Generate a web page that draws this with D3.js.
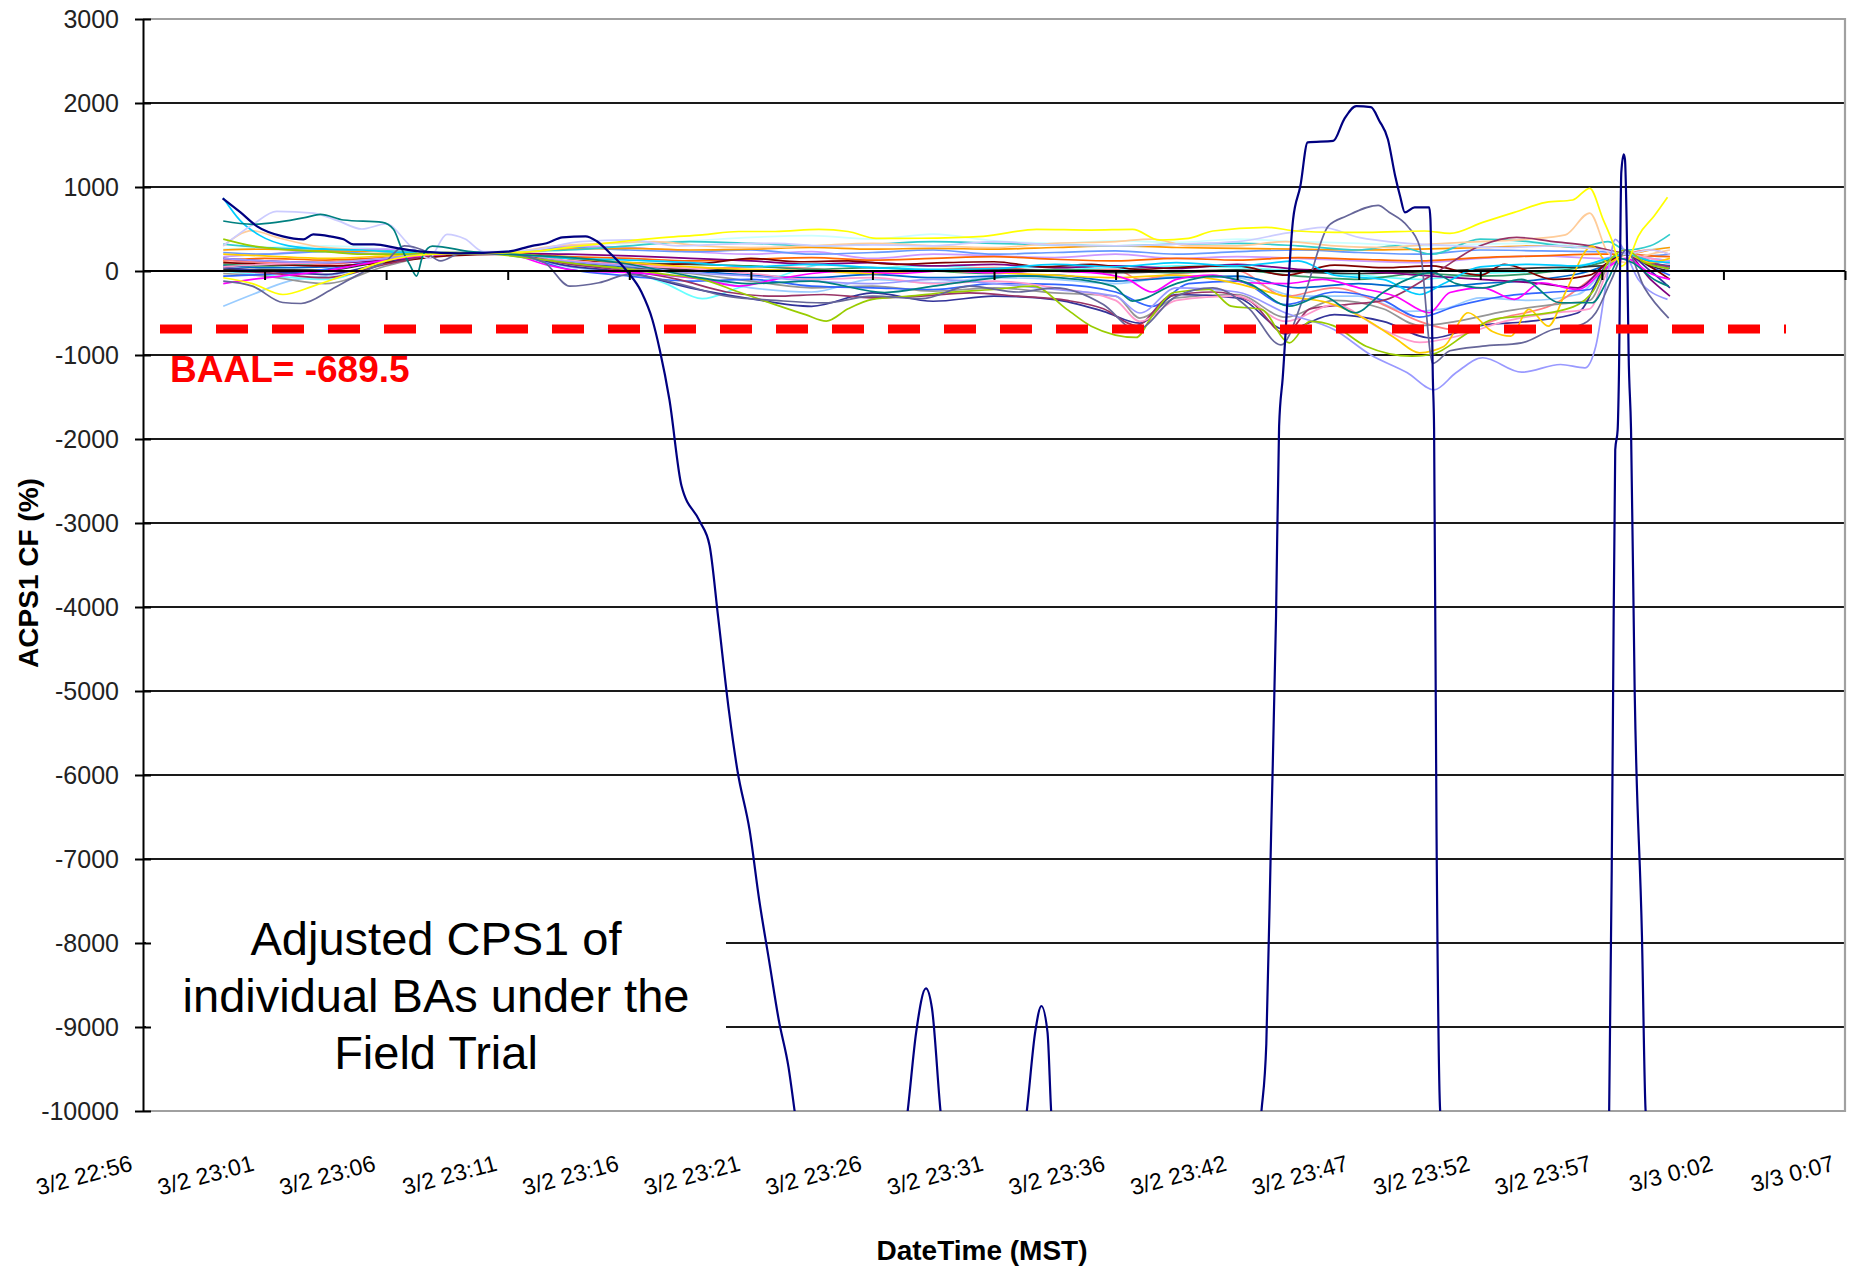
<!DOCTYPE html>
<html><head><meta charset="utf-8">
<script src="https://cdn.jsdelivr.net/npm/d3@7/dist/d3.min.js"></script>
<style>
body{margin:0;background:#fff;}
svg{display:block;font-family:"Liberation Sans",Arial,sans-serif;}
</style>
</head><body>
<svg id="chart" width="1860" height="1269"></svg>
<script>
// ---------- DATA ----------
const tickLabels = ["3/2 22:56","3/2 23:01","3/2 23:06","3/2 23:11","3/2 23:16","3/2 23:21","3/2 23:26",
  "3/2 23:31","3/2 23:36","3/2 23:42","3/2 23:47","3/2 23:52","3/2 23:57","3/3 0:02","3/3 0:07"];
const yTickValues = [3000,2000,1000,0,-1000,-2000,-3000,-4000,-5000,-6000,-7000,-8000,-9000,-10000];
const baalValue = -689.5;
const baalLabel = "BAAL= -689.5";
const yTitle = "ACPS1 CF (%)";
const xTitle = "DateTime (MST)";
const noteLines = ["Adjusted CPS1 of","individual BAs under the","Field Trial"];

// x = position along the category axis in tick intervals (0 = 3/2 22:56)
const navyX = [0.655,0.8,0.935,1.15,1.32,1.4,1.54,1.65,1.73,1.9,2.1,2.3,2.6,3.0,3.2,3.32,3.45,3.64,3.73,3.85,3.98,4.1,4.19,4.25,4.33,4.43,4.58,4.66,4.73,4.82,4.89,4.99,5.07,5.15,5.23,5.31,5.36,5.45,6.2,6.29,6.36,6.44,6.49,6.56,6.65,7.18,7.27,7.34,7.39,7.44,7.47,7.55,9.1,9.2,9.24,9.28,9.32,9.345,9.375,9.46,9.52,9.58,9.79,9.88,9.98,10.1,10.17,10.24,10.3,10.34,10.38,10.46,10.58,10.59,10.61,10.62,10.64,10.67,10.75,11.98,12.06,12.09,12.11,12.13,12.14,12.16,12.18,12.19,12.21,12.22,12.24,12.27,12.33,12.36,12.45];
const navyY = [865,700,535,412,377,436,412,377,317,317,270,230,210,230,300,330,400,412,357,200,0,-250,-580,-934,-1530,-2560,-2980,-3265,-4110,-5240,-5950,-6660,-7500,-8210,-8920,-9480,-10000,-11000,-11000,-10000,-9060,-8540,-8780,-10000,-11000,-11000,-10000,-9050,-8750,-9060,-10000,-11000,-11000,-10000,-9200,-6660,-4110,-1850,-1270,612,1012,1531,1548,1806,1962,1950,1787,1569,1131,893,698,758,758,615,-1292,-1888,-6660,-10000,-11000,-11000,-10000,-5530,-2130,-1888,-1292,1175,1390,1330,56,-970,-1888,-5000,-7930,-10000,-11000];

const yellowS = [[0.66,-80],[0.9,-150],[1.15,-280],[1.4,-180],[1.7,-30],[2.0,120],[2.4,200],[2.8,210],[3.2,230],[3.6,300],[4.0,360],[4.3,400],[4.6,430],[4.9,470],[5.2,470],[5.56,496],[5.8,470],[6.03,389],[6.4,390],[6.91,412],[7.35,496],[7.8,487],[8.14,496],[8.36,369],[8.6,389],[8.8,476],[9.24,520],[9.49,476],[9.8,460],[10.07,460],[10.54,476],[10.75,448],[11.02,579],[11.28,698],[11.54,817],[11.76,845],[11.9,984],[12.01,615],[12.08,377],[12.16,58],[12.22,138],[12.3,416],[12.43,654],[12.54,877]];
const tealS = [[0.66,595],[0.9,556],[1.34,638],[1.46,675],[1.65,607],[1.97,579],[2.06,496],[2.13,257],[2.2,58],[2.25,-60],[2.3,178],[2.38,297],[2.7,230],[3.0,200],[3.6,150],[4.0,80],[4.5,-60],[5.0,-150],[5.5,-120],[6.1,-256],[6.5,-180],[6.8,-120],[7.2,-60],[7.5,-76],[7.98,-180],[8.14,-358],[8.5,-150],[8.8,-60],[9.1,-150],[9.43,-418],[9.7,-300],[9.97,-497],[10.2,-256],[10.4,-100],[10.6,-17],[10.8,-150],[11.02,-200],[11.34,-100],[11.66,-378],[11.92,-378],[12.05,-100],[12.15,150],[12.25,100],[12.43,-100],[12.55,-180]];
const slateS = [[0.66,-120],[0.9,-180],[1.15,-375],[1.3,-387],[1.55,-220],[1.8,-20],[2.0,120],[2.15,300],[2.3,250],[2.45,120],[2.6,200],[3.0,200],[3.3,100],[3.51,-180],[3.75,-140],[4.0,-40],[4.4,-150],[4.8,-300],[5.2,-350],[5.6,-380],[6.0,-300],[6.4,-330],[6.8,-180],[7.2,-250],[7.5,-200],[7.9,-400],[8.17,-700],[8.5,-300],[8.8,-200],[9.1,-450],[9.36,-880],[9.55,-300],[9.75,535],[9.9,654],[10.16,782],[10.25,700],[10.4,535],[10.5,297],[10.61,-1100],[10.75,-950],[11.02,-895],[11.34,-855],[11.6,-696],[11.8,-656],[11.95,-497],[12.08,-100],[12.2,250],[12.35,-200],[12.55,-560]];
const periwinkleS = [[0.66,150],[1.0,120],[1.5,100],[2.0,150],[2.4,220],[2.8,220],[3.2,150],[3.6,100],[4.0,60],[4.5,-20],[5.0,-60],[5.5,-120],[6.0,-150],[6.5,-100],[7.0,-150],[7.5,-220],[8.0,-300],[8.2,-500],[8.5,-200],[9.0,-250],[9.4,-500],[9.8,-700],[10.1,-1000],[10.4,-1212],[10.62,-1415],[10.8,-1212],[11.02,-1033],[11.34,-1205],[11.66,-1113],[11.86,-1153],[11.95,-895],[12.05,-17],[12.11,377],[12.2,200],[12.3,-100],[12.54,-338]];
const oliveS = [[0.66,380],[0.9,300],[1.2,250],[1.5,230],[1.8,200],[2.1,200],[2.5,220],[2.8,210],[3.2,150],[3.6,80],[4.0,20],[4.3,-40],[4.6,-100],[4.9,-250],[5.2,-400],[5.45,-520],[5.62,-597],[5.8,-450],[6.0,-338],[6.3,-300],[6.6,-256],[7.0,-220],[7.32,-180],[7.6,-457],[7.8,-657],[8.17,-791],[8.3,-537],[8.48,-256],[8.77,-220],[8.95,-418],[9.2,-457],[9.43,-855],[9.6,-600],[9.79,-650],[10.06,-895],[10.44,-1014],[10.6,-994],[10.9,-735],[11.1,-577],[11.34,-537],[11.7,-457],[11.92,-256],[12.05,100],[12.2,250],[12.35,100],[12.55,30]];
const magentaS = [[0.66,-150],[0.9,-100],[1.2,-50],[1.5,0],[1.8,80],[2.1,150],[2.5,200],[3.0,200],[3.3,80],[3.6,0],[4.0,-20],[4.3,-50],[4.6,-100],[4.9,-180],[5.2,-100],[5.5,-30],[5.8,0],[6.2,-30],[6.6,0],[7.0,-20],[7.4,0],[7.8,-20],[8.1,-100],[8.3,-250],[8.5,-100],[8.8,-50],[9.1,-140],[9.4,-150],[9.7,-100],[10.0,-200],[10.3,-300],[10.58,-497],[10.75,-256],[11.02,-200],[11.28,-338],[11.5,-140],[11.8,-220],[12.05,50],[12.2,150],[12.4,-30],[12.56,-100]];
const goldS = [[0.66,200],[1.0,180],[1.5,150],[2.0,180],[2.5,220],[3.0,210],[3.5,150],[4.0,100],[4.5,50],[5.0,20],[5.5,0],[6.0,-30],[6.5,0],[7.0,-20],[7.5,-50],[8.0,-80],[8.5,-50],[9.0,-150],[9.4,-300],[9.75,-378],[10.06,-577],[10.3,-800],[10.5,-974],[10.7,-900],[10.9,-497],[11.1,-720],[11.25,-775],[11.4,-457],[11.56,-656],[11.7,-256],[11.92,297],[12.05,100],[12.2,200],[12.4,100],[12.56,150]];
const pinkS = [[0.66,50],[1.0,80],[1.5,100],[2.0,150],[2.5,200],[3.0,210],[3.5,120],[4.0,80],[4.5,30],[5.0,-30],[5.5,-100],[6.0,-80],[6.5,-150],[7.0,-120],[7.5,-200],[8.0,-350],[8.2,-600],[8.5,-350],[9.0,-300],[9.4,-600],[9.8,-400],[10.2,-700],[10.5,-850],[10.8,-780],[11.2,-600],[11.6,-500],[11.9,-450],[12.05,0],[12.2,200],[12.4,150],[12.56,80]];
const peachS = [[0.66,300],[0.9,480],[1.1,400],[1.4,300],[1.8,250],[2.1,220],[2.5,200],[3.0,220],[3.4,300],[3.8,330],[4.2,350],[4.6,300],[5.0,280],[5.5,300],[6.0,330],[6.5,300],[7.0,280],[7.5,330],[8.0,350],[8.3,380],[8.6,300],[9.0,300],[9.4,350],[9.8,300],[10.2,280],[10.6,320],[11.0,350],[11.4,380],[11.7,430],[11.9,690],[12.05,217],[12.2,100],[12.35,180],[12.56,250]];
const lavenderS = [[0.66,300],[0.9,550],[1.1,710],[1.4,690],[1.6,600],[1.8,500],[2.0,560],[2.2,300],[2.35,150],[2.5,436],[2.65,380],[2.8,230],[3.2,250],[3.6,350],[4.0,370],[4.4,300],[4.8,320],[5.2,330],[5.6,300],[6.0,310],[6.5,300],[7.0,350],[7.5,310],[8.0,300],[8.5,320],[9.0,350],[9.4,450],[9.7,520],[10.0,400],[10.4,330],[10.8,300],[11.2,280],[11.6,300],[12.0,250],[12.2,200],[12.4,250],[12.56,200]];
const skyS = [[0.66,870],[0.8,600],[0.96,424],[1.2,300],[1.5,260],[1.8,250],[2.1,220],[2.5,210],[3.0,200],[3.5,150],[4.0,130],[4.5,100],[5.0,50],[5.5,80],[6.0,40],[6.5,20],[7.0,30],[7.5,80],[8.0,50],[8.5,100],[9.0,60],[9.5,120],[9.8,-50],[10.2,-100],[10.5,-280],[10.7,-150],[11.0,50],[11.4,80],[11.8,60],[12.05,150],[12.2,200],[12.4,120],[12.56,100]];
const lightBlueS = [[0.66,-420],[0.9,-280],[1.2,-120],[1.5,-60],[1.8,20],[2.1,120],[2.5,200],[3.0,200],[3.5,50],[4.0,-20],[4.5,-80],[5.0,-200],[5.5,-250],[6.0,-100],[6.5,-140],[7.0,-80],[7.5,-100],[8.0,-150],[8.5,-60],[9.0,-80],[9.5,-300],[10.0,-300],[10.4,-480],[10.7,-450],[11.0,-320],[11.4,-350],[11.8,-280],[12.05,50],[12.2,200],[12.4,100],[12.56,50]];
const aquaS = [[0.66,0],[1.0,-50],[1.5,-100],[2.0,100],[2.5,200],[3.0,200],[3.5,100],[4.0,0],[4.3,-150],[4.6,-330],[4.9,-200],[5.2,-80],[5.6,80],[6.0,40],[6.5,60],[7.0,30],[7.5,50],[8.0,20],[8.5,60],[9.0,40],[9.5,0],[10.0,-50],[10.5,-100],[11.0,-30],[11.5,0],[12.0,120],[12.2,200],[12.4,150],[12.56,120]];
const iceS = [[0.66,260],[1.0,280],[1.5,300],[2.0,260],[2.5,220],[3.0,210],[3.5,300],[4.0,330],[4.5,360],[5.0,400],[5.5,420],[6.0,380],[6.5,440],[7.0,360],[7.5,330],[8.0,360],[8.5,340],[9.0,380],[9.5,350],[10.0,330],[10.5,300],[11.0,320],[11.5,330],[12.0,260],[12.2,200],[12.4,260],[12.56,280]];
const maroonS = [[0.66,100],[1.0,80],[1.5,60],[2.0,100],[2.5,180],[3.0,200],[3.5,150],[3.8,100],[4.2,80],[4.6,90],[5.0,150],[5.4,110],[5.8,120],[6.2,80],[6.6,100],[7.0,110],[7.4,50],[7.8,80],[8.2,20],[8.6,50],[9.0,60],[9.4,-50],[9.8,70],[10.2,40],[10.6,60],[11.0,-50],[11.2,80],[11.6,-100],[11.9,-50],[12.05,100],[12.2,200],[12.4,50],[12.56,-100]];
const plumS = [[0.66,0],[1.0,-20],[1.5,-80],[2.0,80],[2.5,200],[3.0,200],[3.5,80],[4.0,0],[4.4,-100],[4.8,-250],[5.2,-300],[5.6,-280],[6.0,-320],[6.4,-300],[6.8,-260],[7.2,-300],[7.6,-350],[7.9,-450],[8.17,-650],[8.45,-300],[8.8,-250],[9.1,-350],[9.4,-750],[9.6,-450],[9.9,-400],[10.2,-350],[10.6,-50],[11.0,300],[11.3,400],[11.6,350],[11.9,300],[12.05,250],[12.2,200],[12.4,100],[12.56,50]];
const purpleS = [[0.66,150],[1.0,120],[1.5,100],[2.0,130],[2.5,200],[3.0,210],[3.5,200],[4.0,180],[4.5,150],[5.0,120],[5.5,80],[6.0,100],[6.5,60],[7.0,80],[7.5,40],[8.0,60],[8.5,30],[9.0,80],[9.5,20],[10.0,0],[10.5,-50],[11.0,-100],[11.5,-150],[11.8,-200],[12.05,100],[12.2,200],[12.4,-100],[12.56,-300]];
const blueS = [[0.66,220],[1.0,200],[1.5,230],[2.0,200],[2.5,200],[3.0,220],[3.5,280],[4.0,250],[4.5,230],[5.0,250],[5.5,200],[6.0,220],[6.5,250],[7.0,200],[7.5,220],[8.0,240],[8.5,200],[9.0,230],[9.5,250],[10.0,220],[10.5,200],[11.0,250],[11.5,240],[12.0,230],[12.2,200],[12.4,180],[12.56,200]];
const orangeS = [[0.66,250],[1.0,260],[1.5,240],[2.0,230],[2.5,210],[3.0,220],[3.5,260],[4.0,270],[4.5,250],[5.0,260],[5.5,280],[6.0,260],[6.5,270],[7.0,260],[7.5,280],[8.0,300],[8.5,280],[9.0,270],[9.5,260],[10.0,250],[10.5,260],[11.0,280],[11.5,300],[12.0,260],[12.2,200],[12.4,250],[12.56,280]];
const turquoiseS = [[0.66,320],[1.0,280],[1.5,260],[2.0,240],[2.5,220],[3.0,230],[3.5,250],[4.0,300],[4.5,350],[5.0,330],[5.5,300],[6.0,320],[6.5,350],[7.0,330],[7.5,310],[8.0,300],[8.5,320],[9.0,330],[9.5,300],[10.0,250],[10.3,300],[10.6,200],[11.0,380],[11.4,350],[11.8,280],[12.05,350],[12.2,250],[12.4,300],[12.56,436]];
const lilacS = [[0.66,170],[1.0,200],[1.5,250],[2.0,260],[2.5,210],[3.0,200],[3.5,300],[4.0,280],[4.5,230],[5.0,200],[5.5,230],[6.0,150],[6.5,200],[7.0,180],[7.5,160],[8.0,200],[8.5,150],[9.0,170],[9.5,150],[10.0,120],[10.5,100],[11.0,150],[11.5,180],[12.0,150],[12.2,200],[12.4,150],[12.56,120]];
const salmonS = [[0.66,130],[1.0,100],[1.5,80],[2.0,150],[2.5,200],[3.0,200],[3.5,120],[4.0,60],[4.5,20],[5.0,50],[5.5,30],[6.0,-20],[6.5,10],[7.0,40],[7.5,0],[8.0,20],[8.2,-100],[8.5,-30],[9.0,0],[9.4,-300],[9.8,-200],[10.2,-400],[10.5,-600],[10.8,-700],[11.2,-550],[11.6,-400],[12.0,0],[12.2,200],[12.4,250],[12.56,200]];
const oceanS = [[0.66,60],[1.0,40],[1.5,50],[2.0,120],[2.5,200],[3.0,200],[3.5,100],[4.0,50],[4.5,0],[5.0,-50],[5.5,-80],[6.0,-40],[6.5,-80],[7.0,-60],[7.5,-50],[8.0,-120],[8.5,-80],[9.0,-60],[9.5,-200],[10.0,-150],[10.5,-200],[11.0,-150],[11.5,-100],[12.0,50],[12.2,200],[12.4,100],[12.56,60]];
const greenS = [[0.66,80],[1.0,60],[1.5,100],[2.0,150],[2.5,200],[3.0,210],[3.5,150],[4.0,100],[4.5,80],[5.0,60],[5.5,20],[6.0,40],[6.5,0],[7.0,-30],[7.5,20],[8.0,0],[8.5,-20],[9.0,10],[9.5,-60],[10.0,-100],[10.5,-30],[11.0,-60],[11.5,-20],[12.0,100],[12.2,200],[12.4,80],[12.56,30]];
const indigoS = [[0.66,40],[1.0,0],[1.5,-40],[2.0,100],[2.5,200],[3.0,200],[3.5,60],[4.0,-20],[4.5,-200],[5.0,-330],[5.5,-420],[6.0,-260],[6.5,-360],[7.0,-300],[7.5,-340],[7.9,-480],[8.2,-620],[8.5,-280],[9.0,-320],[9.4,-700],[9.8,-520],[10.2,-600],[10.6,-800],[11.0,-650],[11.4,-600],[11.8,-500],[12.05,100],[12.2,200],[12.4,0],[12.56,-200]];
const redOrangeS = [[0.66,120],[1.0,150],[1.5,130],[2.0,160],[2.5,200],[3.0,210],[3.5,170],[4.0,150],[4.5,120],[5.0,140],[5.5,160],[6.0,130],[6.5,150],[7.0,170],[7.5,140],[8.0,120],[8.5,150],[9.0,130],[9.5,160],[10.0,140],[10.5,120],[11.0,160],[11.5,180],[12.0,200],[12.2,200],[12.4,180],[12.56,170]];
const royalS = [[0.66,-60],[1.0,-40],[1.5,20],[2.0,140],[2.5,200],[3.0,200],[3.5,20],[4.0,-60],[4.5,-120],[5.0,-100],[5.5,-180],[6.0,-200],[6.5,-220],[7.0,-150],[7.5,-160],[8.0,-250],[8.3,-420],[8.6,-150],[9.0,-120],[9.4,-400],[9.8,-250],[10.2,-350],[10.5,-550],[10.8,-420],[11.2,-300],[11.6,-250],[11.9,-220],[12.05,100],[12.2,200],[12.4,50],[12.56,-50]];
const greyS = [[0.66,-30],[1.0,-60],[1.5,-150],[2.0,60],[2.5,200],[3.0,210],[3.5,90],[4.0,30],[4.5,-30],[5.0,-120],[5.5,-200],[6.0,-180],[6.5,-240],[7.0,-200],[7.5,-260],[8.0,-300],[8.2,-560],[8.5,-320],[9.0,-280],[9.4,-550],[9.8,-350],[10.2,-450],[10.5,-650],[10.8,-600],[11.2,-480],[11.6,-400],[11.9,-350],[12.05,50],[12.2,200],[12.4,120],[12.56,0]];
const charcoalS = [[0.66,20],[1.5,10],[2.0,120],[2.5,200],[3.0,210],[3.5,110],[4.0,30],[5.0,10],[6.0,0],[7.0,20],[8.0,-20],[9.0,10],[10.0,-30],[11.0,20],[12.0,60],[12.2,200],[12.4,60],[12.56,0]];

const bundleSeries = [lightBlueS, iceS, aquaS, lilacS, blueS, orangeS, redOrangeS, turquoiseS, peachS, salmonS, oceanS, greenS,
  charcoalS, greyS, royalS, indigoS, purpleS, maroonS, plumS, pinkS, goldS, magentaS, skyS, lavenderS, periwinkleS, oliveS, slateS, tealS, yellowS];
const bundleColors = ["#99CCFF","#CCFFFF","#66FFFF","#CC99FF","#6699FF","#FF9900","#FF6600","#33CCCC","#FFCC99","#FF8080","#0066CC","#339966",
  "#333333","#969696","#3366FF","#333399","#800080","#800000","#993366","#FF99CC","#FFCC00","#FF00FF","#00CCFF","#CCCCFF","#9999FF","#99CC00","#666699","#008080","#FFFF00"];

// ---------- CHART ----------
const svg = d3.select("#chart");
const L = 143, R = 1845, T = 19, B = 1111;
const x = d3.scaleLinear().domain([0, tickLabels.length - 1]).range([L, R]);
const y = d3.scaleLinear().domain([3000, -10000]).range([T, B]);

svg.append("defs").append("clipPath").attr("id","plotClip")
  .append("rect").attr("x", L).attr("y", T).attr("width", R - L).attr("height", B - T);

// gridlines
svg.append("g").selectAll("line").data(yTickValues.filter(v => v < 3000 && v > -10000)).join("line")
  .attr("x1", L).attr("x2", R).attr("y1", d => y(d)).attr("y2", d => y(d))
  .attr("stroke", "#1a1a1a").attr("stroke-width", 2);

// plot border (top / right / bottom in grey)
svg.append("path").attr("d", `M${L},${y(3000)}H${R}V${y(-10000)}H${L}`)
  .attr("fill","none").attr("stroke","#a0a0a0").attr("stroke-width",2.2);

// white note box hiding gridlines
svg.append("rect").attr("x", L + 3).attr("y", y(-7450)).attr("width", 726 - L - 3).attr("height", y(-9950) - y(-7450))
  .attr("fill", "#fff");
const note = svg.append("text").attr("text-anchor","middle").attr("font-size", 47).attr("fill","#000")
  .attr("font-family", "'Liberation Sans', Arial, sans-serif");
noteLines.forEach((t, i) => {
  note.append("tspan").attr("x", 436).attr("y", y(-8000) + 12 + i * 57).text(t);
});

// data lines
const line = d3.line().x(d => x(d[0])).y(d => y(d[1])).curve(d3.curveMonotoneX);
const gLines = svg.append("g").attr("clip-path","url(#plotClip)");
gLines.selectAll("path.b").data(bundleSeries).join("path").attr("class","b")
  .attr("d", line).attr("fill","none").attr("stroke", (d, i) => bundleColors[i]).attr("stroke-width", 1.7)
  .attr("stroke-linejoin","round");

// BAAL dashed line
svg.append("line").attr("x1", 160).attr("x2", 1786).attr("y1", y(baalValue)).attr("y2", y(baalValue))
  .attr("stroke", "#FF0000").attr("stroke-width", 9).attr("stroke-dasharray", "32,24");

const navyData = navyX.map((v, i) => [v, navyY[i]]);
gLines.append("path").datum(navyData).attr("d", line).attr("fill","none")
  .attr("stroke","#000080").attr("stroke-width",2.2).attr("stroke-linejoin","round");

svg.append("text").attr("x", 170).attr("y", 382).attr("font-size", 37).attr("font-weight","bold")
  .attr("fill","#FF0000").text(baalLabel);

// y axis
const yAxis = d3.axisLeft(y).tickValues(yTickValues).tickSize(0).tickPadding(0).tickFormat(d => String(d));
const gy = svg.append("g").attr("transform", `translate(${L},0)`).call(yAxis);
gy.select(".domain").attr("stroke","#000").attr("stroke-width",2);
gy.selectAll(".tick text").attr("x", -24).attr("font-size", 25).attr("fill","#222")
  .attr("font-family","'Liberation Sans', Arial, sans-serif");
gy.selectAll(".tick").append("line").attr("x1", -8).attr("x2", 8).attr("stroke","#000").attr("stroke-width",2);

// zero axis with ticks
svg.append("line").attr("x1", L).attr("x2", R).attr("y1", y(0)).attr("y2", y(0)).attr("stroke","#000").attr("stroke-width",2);
const xAxis = d3.axisBottom(x).tickValues(d3.range(1, tickLabels.length)).tickSize(9).tickFormat("");
const gx0 = svg.append("g").attr("transform", `translate(0,${y(0)})`).call(xAxis);
gx0.select(".domain").remove();
gx0.selectAll(".tick line").attr("stroke","#000").attr("stroke-width",2);

// x tick labels (low position)
const xLab = svg.append("g");
xLab.selectAll("text").data(d3.range(tickLabels.length)).join("text")
  .attr("transform", d => `translate(${x(d) - 9},1170) rotate(-15)`)
  .attr("text-anchor","end").attr("font-size", 23).attr("letter-spacing", 0.3).attr("fill","#000")
  .text(d => tickLabels[d]);

// axis titles
svg.append("text").attr("x", 982).attr("y", 1260).attr("text-anchor","middle")
  .attr("font-size", 28).attr("font-weight","bold").attr("fill","#000").text(xTitle);
svg.append("text").attr("transform","translate(38,573) rotate(-90)").attr("text-anchor","middle")
  .attr("font-size", 28).attr("font-weight","bold").attr("fill","#000").text(yTitle);
</script>
</body></html>
